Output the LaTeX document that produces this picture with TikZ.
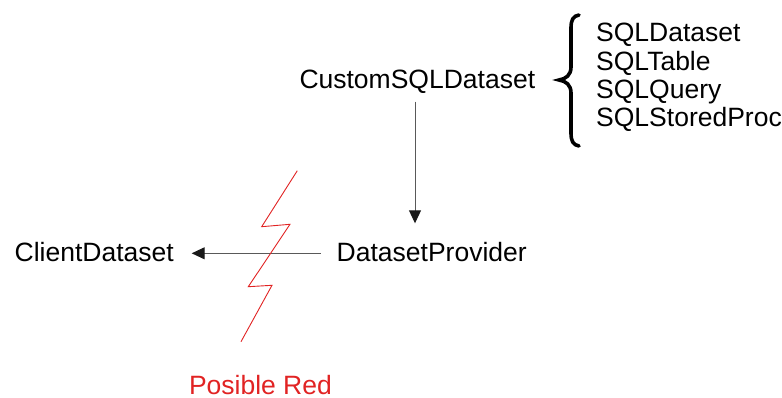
\documentclass[tikz,border=0pt]{standalone}
\usepackage{fontspec}
\setmainfont{Liberation Sans}
\usetikzlibrary{arrows.meta}
\definecolor{boltred}{RGB}{225,35,35}
\begin{document}
\begin{tikzpicture}[x=1pt,y=-1pt,
  lbl/.style={inner sep=0pt,anchor=base west,font=\fontsize{26.5}{28.3}\selectfont},
  flow/.style={draw=black!65,line width=1pt,-{Triangle[length=13pt,width=12pt,fill=black!90,color=black!90]}},
  bolt/.style={draw=boltred,line width=0.9pt,line join=miter}]
\useasboundingbox (0,0) rectangle (782,398);

% class names
\node[lbl] (custom)   at (299.3,88.3)  {CustomSQLDataset};
\node[lbl] (client)   at (14.5,261.7)  {ClientDataset};
\node[lbl] (provider) at (336.5,261.7) {DatasetProvider};
\node[lbl,text=boltred] (red) at (188.8,394.3) {Posible Red};

% concrete dataset classes
\node[lbl] (l1) at (596,41.7)  {SQLDataset};
\node[lbl] (l2) at (596,70.3)  {SQLTable};
\node[lbl] (l3) at (596,98.6)  {SQLQuery};
\node[lbl] (l4) at (596,126.9) {SQLStoredProc};

% brace grouping the list
\draw[line width=3.6pt,line cap=round]
  (579,15) .. controls (573,16) and (571,20) .. (571,28) -- (571,67)
  .. controls (571,75) and (566,79) .. (559,80)
  .. controls (566,81) and (571,85) .. (571,93) -- (571,133)
  .. controls (571,141) and (573,145) .. (579,146);

% connectors
\coordinate (vtop) at (415,101.7);
\coordinate (vbot) at (415,223.3);
\coordinate (hbeg) at (320.7,253.3);
\coordinate (hend) at (191.7,253.3);
\draw[flow] (vtop) -- (vbot);
\draw[flow] (hbeg) -- (hend);

% broken-link bolt
\draw[bolt] (297.3,170.7) -- (261.7,226.7) -- (290,224.3)
  -- (248.3,286.7) -- (272,285.3) -- (241,341.7);
\end{tikzpicture}
\end{document}
